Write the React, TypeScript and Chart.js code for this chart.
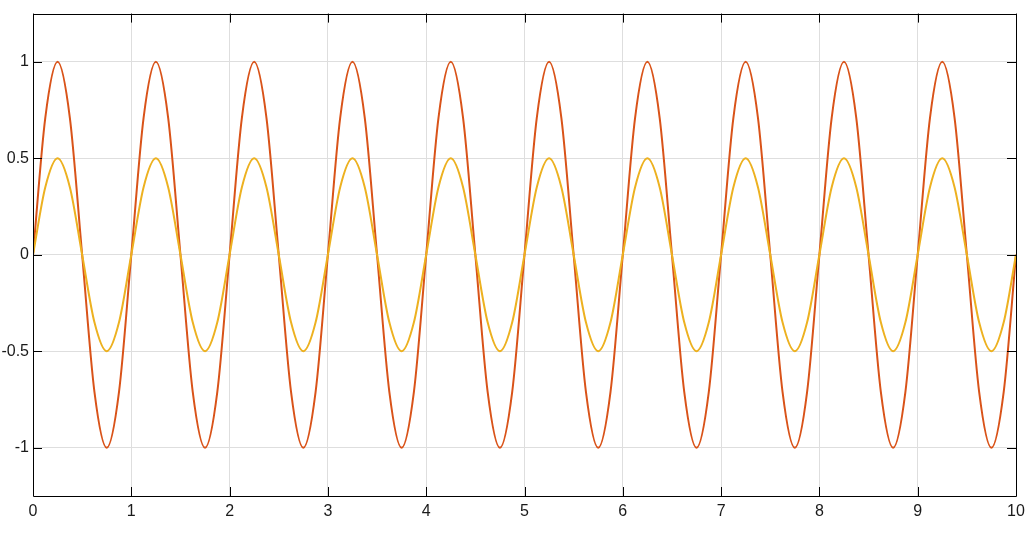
import React, { useEffect, useRef } from "react";
import { Chart, registerables } from "chart.js";

Chart.register(...registerables);

const xValues = [
  0, 0.125, 0.25, 0.375, 0.5, 0.625, 0.75, 0.875,
  1, 1.125, 1.25, 1.375, 1.5, 1.625, 1.75, 1.875,
  2, 2.125, 2.25, 2.375, 2.5, 2.625, 2.75, 2.875,
  3, 3.125, 3.25, 3.375, 3.5, 3.625, 3.75, 3.875,
  4, 4.125, 4.25, 4.375, 4.5, 4.625, 4.75, 4.875,
  5, 5.125, 5.25, 5.375, 5.5, 5.625, 5.75, 5.875,
  6, 6.125, 6.25, 6.375, 6.5, 6.625, 6.75, 6.875,
  7, 7.125, 7.25, 7.375, 7.5, 7.625, 7.75, 7.875,
  8, 8.125, 8.25, 8.375, 8.5, 8.625, 8.75, 8.875,
  9, 9.125, 9.25, 9.375, 9.5, 9.625, 9.75, 9.875,
  10,
];

const seriesFull = [
  0, 0.71, 1, 0.71, 0, -0.71, -1, -0.71,
  0, 0.71, 1, 0.71, 0, -0.71, -1, -0.71,
  0, 0.71, 1, 0.71, 0, -0.71, -1, -0.71,
  0, 0.71, 1, 0.71, 0, -0.71, -1, -0.71,
  0, 0.71, 1, 0.71, 0, -0.71, -1, -0.71,
  0, 0.71, 1, 0.71, 0, -0.71, -1, -0.71,
  0, 0.71, 1, 0.71, 0, -0.71, -1, -0.71,
  0, 0.71, 1, 0.71, 0, -0.71, -1, -0.71,
  0, 0.71, 1, 0.71, 0, -0.71, -1, -0.71,
  0, 0.71, 1, 0.71, 0, -0.71, -1, -0.71,
  0,
];

const seriesHalf = [
  0, 0.35, 0.5, 0.35, 0, -0.35, -0.5, -0.35,
  0, 0.35, 0.5, 0.35, 0, -0.35, -0.5, -0.35,
  0, 0.35, 0.5, 0.35, 0, -0.35, -0.5, -0.35,
  0, 0.35, 0.5, 0.35, 0, -0.35, -0.5, -0.35,
  0, 0.35, 0.5, 0.35, 0, -0.35, -0.5, -0.35,
  0, 0.35, 0.5, 0.35, 0, -0.35, -0.5, -0.35,
  0, 0.35, 0.5, 0.35, 0, -0.35, -0.5, -0.35,
  0, 0.35, 0.5, 0.35, 0, -0.35, -0.5, -0.35,
  0, 0.35, 0.5, 0.35, 0, -0.35, -0.5, -0.35,
  0, 0.35, 0.5, 0.35, 0, -0.35, -0.5, -0.35,
  0,
];

const xTicks = [0, 1, 2, 3, 4, 5, 6, 7, 8, 9, 10];
const yTicks = [-1, -0.5, 0, 0.5, 1];

const W = 1036;
const H = 549;

const boxPlugin = {
  id: "boxTicks",
  afterDraw(chart: any) {
    const { ctx, chartArea, scales } = chart;
    const { left, right, top, bottom } = chartArea;
    ctx.save();
    ctx.strokeStyle = "#000";
    ctx.lineWidth = 1;
    ctx.beginPath();
    ctx.rect(Math.round(left) + 0.5, Math.round(top) + 0.5, Math.round(right - left), Math.round(bottom - top));
    ctx.stroke();
    const tl = 9;
    ctx.beginPath();
    for (const v of xTicks) {
      const px = Math.round(scales.x.getPixelForValue(v)) + 0.5;
      ctx.moveTo(px, bottom);
      ctx.lineTo(px, bottom - tl);
      ctx.moveTo(px, top);
      ctx.lineTo(px, top + tl);
    }
    for (const v of yTicks) {
      const py = Math.round(scales.y.getPixelForValue(v)) + 0.5;
      ctx.moveTo(left, py);
      ctx.lineTo(left + tl, py);
      ctx.moveTo(right, py);
      ctx.lineTo(right - tl, py);
    }
    ctx.stroke();
    ctx.restore();
  },
};

export default function App() {
  const ref = useRef<HTMLCanvasElement | null>(null);
  useEffect(() => {
    if (!ref.current) return;
    const toPts = (ys: number[]) => xValues.map((x, i) => ({ x, y: ys[i] }));
    const chart = new Chart(ref.current, {
      type: "line",
      data: {
        datasets: [
          {
            label: "half",
            data: toPts(seriesHalf),
            borderColor: "#EDB120",
            borderWidth: 2,
            pointRadius: 0,
            cubicInterpolationMode: "monotone",
            fill: false,
            order: 0,
          },
          {
            label: "full",
            data: toPts(seriesFull),
            borderColor: "#D95319",
            borderWidth: 2,
            pointRadius: 0,
            cubicInterpolationMode: "monotone",
            fill: false,
            order: 1,
          },
        ],
      },
      options: {
        animation: false,
        responsive: false,
        maintainAspectRatio: false,
        events: [],
        layout: { padding: { top: 13, right: 20, left: 0, bottom: 0 } },
        plugins: {
          legend: { display: false },
          tooltip: { enabled: false },
        },
        scales: {
          x: {
            type: "linear",
            min: 0,
            max: 10,
            afterBuildTicks: (s: any) => {
              s.ticks = xTicks.map((v) => ({ value: v }));
            },
            afterFit: (s: any) => {
              s.height = 53;
            },
            grid: { color: "#dedede", drawTicks: false, lineWidth: 1 },
            border: { display: false },
            ticks: {
              color: "#1a1a1a",
              font: { family: "Liberation Sans, Arial, sans-serif", size: 16 },
              padding: 6,
              maxRotation: 0,
              callback: (v: any) => String(v),
            },
          },
          y: {
            type: "linear",
            min: -1.25,
            max: 1.25,
            afterBuildTicks: (s: any) => {
              s.ticks = yTicks.map((v) => ({ value: v }));
            },
            afterFit: (s: any) => {
              s.width = 33;
            },
            grid: { color: "#dedede", drawTicks: false, lineWidth: 1 },
            border: { display: false },
            ticks: {
              color: "#1a1a1a",
              font: { family: "Liberation Sans, Arial, sans-serif", size: 16 },
              padding: 4,
              callback: (v: any) => String(v),
            },
          },
        },
      },
      plugins: [boxPlugin],
    } as any);
    return () => chart.destroy();
  }, []);
  return (
    <div style={{ position: "fixed", left: 0, top: 0, width: W, height: H, background: "#fff" }}>
      <canvas ref={ref} width={W} height={H} style={{ width: W, height: H, display: "block" }} />
    </div>
  );
}
